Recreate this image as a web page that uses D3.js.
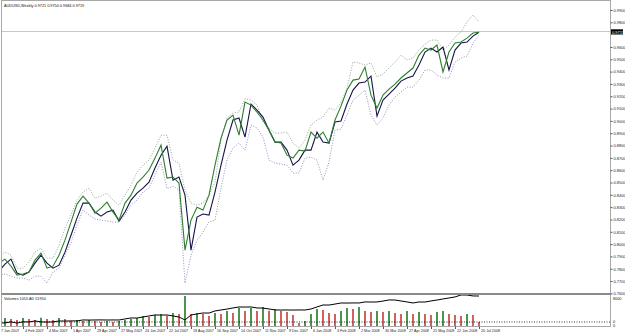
<!DOCTYPE html>
<html>
<head>
<meta charset="utf-8">
<script src="https://cdnjs.cloudflare.com/ajax/libs/d3/7.8.5/d3.min.js"></script>
<style>
  body { margin: 0; background: #fff; }
  text { font-family: "Liberation Sans", Arial, sans-serif; }
</style>
</head>
<body>
<svg width="625" height="334"></svg>
<script>
// AUDUSD weekly, 7 Jan 2007 .. 20 Jul 2008 (81 bars)
var symbol = "AUDUSD,Weekly";
var lastBar = [0.9721, 0.9750, 0.9684, 0.9719]; // open high low close

var tickLabels = ["7 Jan 2007","4 Feb 2007","4 Mar 2007","1 Apr 2007","29 Apr 2007","27 May 2007",
  "24 Jun 2007","22 Jul 2007","19 Aug 2007","16 Sep 2007","14 Oct 2007","11 Nov 2007","9 Dec 2007",
  "6 Jan 2008","3 Feb 2008","2 Mar 2008","30 Mar 2008","27 Apr 2008","25 May 2008","22 Jun 2008","20 Jul 2008"];

var greenLine = [
  .7846,.7878,.7821,.7748,.7757,.7773,.7870,.7927,.7805,.7821,
  .7910,.8032,.8179,.8325,.8389,.8333,.8252,.8292,.8341,.8260,
  .8195,.8333,.8397,.8495,.8544,.8601,.8698,.8803,.8536,.8544,
  .8495,.7951,.8195,.8300,.8276,.8397,.8641,.8860,.9007,.9047,
  .8884,.9153,.9128,.9072,.9007,.8925,.8828,.8820,.8722,.8698,
  .8763,.8755,.8909,.8860,.8909,.8820,.9007,.9120,.9250,.9331,
  .9340,.9437,.9209,.9104,.9209,.9258,.9299,.9348,.9389,.9429,
  .9534,.9591,.9575,.9615,.9397,.9559,.9632,.9640,.9672,.9713,
  .9719];

var navyLine = [
  .7781,.7838,.7878,.7765,.7748,.7773,.7846,.7910,.7846,.7805,
  .7829,.7935,.8072,.8211,.8333,.8333,.8260,.8227,.8260,.8276,
  .8187,.8260,.8357,.8414,.8454,.8503,.8617,.8722,.8795,.8519,
  .8544,.8397,.7951,.8219,.8244,.8236,.8422,.8641,.8844,.9007,
  .9023,.8868,.9137,.9088,.9031,.8925,.8828,.8828,.8763,.8641,
  .8682,.8763,.8763,.8909,.8828,.8820,.8991,.8999,.9137,.9250,
  .9307,.9315,.9364,.9039,.9169,.9218,.9266,.9323,.9348,.9364,
  .9453,.9559,.9591,.9559,.9599,.9413,.9575,.9632,.9640,.9688,
  .9719];

var upperBand = [
  .7902,.7935,.7910,.7805,.7805,.7854,.7935,.7967,.7886,.7886,
  .7991,.8130,.8236,.8357,.8422,.8454,.8373,.8389,.8414,.8357,
  .8316,.8397,.8478,.8585,.8641,.8682,.8779,.8884,.8884,.8682,
  .8658,.8438,.8333,.8316,.8333,.8397,.8503,.8844,.9023,.9064,
  .9072,.9180,.9169,.9128,.8991,.8942,.8901,.8901,.8909,.8820,
  .8779,.8844,.8966,.9007,.9031,.9104,.9088,.9145,.9266,.9478,
  .9470,.9453,.9470,.9356,.9381,.9429,.9478,.9534,.9494,.9510,
  .9575,.9624,.9656,.9656,.9575,.9615,.9680,.9721,.9803,.9859,
  .9803];

var lowerBand = [
  .7748,.7757,.7740,.7724,.7724,.7707,.7740,.7740,.7683,.7773,
  .7805,.7910,.8008,.8154,.8276,.8236,.8203,.8195,.8187,.8179,
  .8179,.8236,.8316,.8357,.8422,.8454,.8560,.8666,.8450,.8470,
  .8440,.7683,.7910,.8032,.8097,.8179,.8195,.8454,.8682,.8779,
  .8820,.8763,.8966,.8942,.8868,.8682,.8658,.8650,.8641,.8577,
  .8577,.8698,.8706,.8682,.8519,.8666,.8925,.8933,.9047,.9169,
  .9209,.9250,.9047,.8966,.9023,.9128,.9193,.9234,.9274,.9274,
  .9331,.9413,.9413,.9372,.9348,.9348,.9478,.9510,.9526,.9632,
  .9696];

var volumes = [
  1760,2030,1720,1490,2010,1780,1530,2060,1740,1510,
  1990,1730,1260,1480,1240,1520,1270,1010,1230,990,
  1260,1490,1770,2030,2480,2260,2740,3010,2540,3260,
  2980,7480,3020,3240,2990,2510,3230,2970,3760,3240,
  4510,3770,4480,3760,4720,3790,4260,3740,3480,2770,
  760,1240,3010,4230,3990,3260,2980,3740,4490,4230,
  4760,3740,3510,3770,3490,3740,3260,2990,3760,3010,
  3510,2990,2760,3490,3740,2980,2760,2510,2990,2740,
  1010];

var adValues = [
  -2000,-1800,200,-2100,300,100,2100,250,-100,150,
  2050,1900,2200,2150,4100,3900,4050,4200,3950,4100,
  3980,6100,8050,7900,10100,12050,14100,13900,14050,12100,
  9950,4100,14050,16100,18050,17900,22100,24050,25900,28100,
  30050,29900,30100,28050,27900,26050,24100,23950,24050,23900,
  24100,23950,26050,30100,34050,33900,35900,38050,37900,38100,
  38050,40100,39950,40050,41900,44100,43950,42050,40100,38050,
  40050,39950,42100,43950,46100,48050,50100,54050,53950,52100,
  51950];

var svg = d3.select("svg"),
    left = 1.5, right = 610.5,
    mainTop = 0.5, mainBottom = 293.5,
    volBottom = 326.5;

var fmt = d3.format(".4f");
var fontFamily = "Liberation Sans, Arial, sans-serif";

var xScale = d3.scaleLinear().domain([0, 80]).range([-1, 479]);
var yScale = d3.scaleLinear().domain([0.76, 0.99]).range([293.4, 10]);
var vScale = d3.scaleLinear().domain([0, 8000]).range([326, 294]);
var adScale = d3.scaleLinear().domain([0, 56000]).range([322, 294]);

svg.append("defs").append("clipPath").attr("id", "clipMain")
  .append("rect").attr("x", 2).attr("y", 1).attr("width", 608).attr("height", 292);
svg.select("defs").append("clipPath").attr("id", "clipVol")
  .append("rect").attr("x", 2).attr("y", 295).attr("width", 608).attr("height", 31);

// bid line
var bidY = Math.round(yScale(lastBar[3])) - 0.5;
svg.append("line")
  .attr("x1", left).attr("x2", right)
  .attr("y1", bidY).attr("y2", bidY)
  .attr("stroke", "#c8c8c8").attr("stroke-width", 1);

var g = svg.append("g").attr("clip-path", "url(#clipMain)");

var line = d3.line()
  .x(function(d, i) { return xScale(i); })
  .y(function(d) { return yScale(d); });

g.append("path").datum(upperBand)
  .attr("d", line).attr("fill", "none")
  .attr("stroke", "#7f9f7f").attr("stroke-width", 0.9).attr("stroke-dasharray", "1,1.6");
g.append("path").datum(lowerBand)
  .attr("d", line).attr("fill", "none")
  .attr("stroke", "#8484b4").attr("stroke-width", 0.9).attr("stroke-dasharray", "1,1.6");
g.append("path").datum(navyLine)
  .attr("d", line).attr("fill", "none")
  .attr("stroke", "#14144a").attr("stroke-width", 1.1);
g.append("path").datum(greenLine)
  .attr("d", line).attr("fill", "none")
  .attr("stroke", "#2f7d2f").attr("stroke-width", 1.1);

// volume window
var vg = svg.append("g").attr("clip-path", "url(#clipVol)");

vg.selectAll(".vol")
  .data(volumes)
  .enter()
  .append("line")
  .attr("class", "vol")
  .attr("x1", function(d, i) { return xScale(i); })
  .attr("x2", function(d, i) { return xScale(i); })
  .attr("y1", vScale(0))
  .attr("y2", function(d) { return vScale(d); })
  .attr("stroke", function(d, i) {
    return (i === 0 || d > volumes[i - 1]) ? "#1f7a1f" : "#c43a3a";
  })
  .attr("stroke-width", 1.6);

vg.append("line")
  .attr("x1", left).attr("x2", right)
  .attr("y1", adScale(0)).attr("y2", adScale(0))
  .attr("stroke", "#000").attr("stroke-width", 0.8).attr("stroke-dasharray", "1,1.5");

vg.append("path").datum(adValues)
  .attr("fill", "none").attr("stroke", "#000").attr("stroke-width", 1)
  .attr("d", d3.line()
    .x(function(d, i) { return xScale(i); })
    .y(function(d) { return adScale(d); }));

// frame
svg.append("rect")
  .attr("x", left).attr("y", mainTop)
  .attr("width", right - left).attr("height", volBottom - mainTop)
  .attr("fill", "none").attr("stroke", "#a8a8a8").attr("stroke-width", 1);
svg.append("line")
  .attr("x1", left).attr("x2", right).attr("y1", mainBottom + 0.5).attr("y2", mainBottom + 0.5)
  .attr("stroke", "#8a8a8a").attr("stroke-width", 2);

// price axis (label under the current-price box is hidden, as in the terminal)
var py = yScale(lastBar[3]);
var priceTicks = d3.range(24).map(function(k) { return 0.76 + k * 0.01; })
  .filter(function(t) { return Math.abs(yScale(t) - py) > 5; });
var yAxis = svg.append("g")
  .attr("transform", "translate(" + right + ",0)")
  .call(d3.axisRight(yScale).tickValues(priceTicks).tickFormat(fmt).tickSize(2).tickPadding(1));
yAxis.select(".domain").remove();
yAxis.selectAll("line").attr("stroke", "#555");
yAxis.selectAll("text").attr("font-size", 4).attr("fill", "#222").attr("font-family", fontFamily);

// current price marker
svg.append("rect").attr("x", 611).attr("y", py - 3).attr("width", 12).attr("height", 5.2).attr("fill", "#000");
svg.append("text").attr("x", 612).attr("y", py + 1.4)
  .attr("font-size", 4).attr("fill", "#fff").attr("font-family", fontFamily).text(fmt(lastBar[3]));

// volume window scale labels
svg.append("text").attr("x", 613).attr("y", 300).attr("font-size", 3.8).attr("fill", "#222").text(vScale.domain()[1]);
svg.append("text").attr("x", 613).attr("y", adScale(0) + 0.5).attr("font-size", 3.8).attr("fill", "#222").text("0");
svg.append("text").attr("x", 613).attr("y", vScale(0) + 0.5).attr("font-size", 3.8).attr("fill", "#222").text("0");

// time axis
var xAxis = svg.append("g")
  .attr("transform", "translate(0," + volBottom + ")")
  .call(d3.axisBottom(xScale)
    .tickValues(tickLabels.map(function(d, i) { return i * 4; }))
    .tickFormat(function(d, i) { return tickLabels[i]; })
    .tickSize(2.5).tickPadding(0.5));
xAxis.select(".domain").remove();
xAxis.selectAll("line").attr("stroke", "#555");
xAxis.selectAll("text")
  .attr("text-anchor", "start").attr("x", 1.5)
  .attr("font-size", 3.7).attr("fill", "#222").attr("font-family", fontFamily);

// titles
svg.append("text").attr("x", 4).attr("y", 7).attr("font-size", 3.8).attr("fill", "#111")
  .text(symbol + "  " + lastBar.map(fmt).join(" "));
svg.append("text").attr("x", 4).attr("y", 299.5).attr("font-size", 3.8).attr("fill", "#111")
  .text("Volumes " + volumes[volumes.length - 1] + "  AD " + adValues[adValues.length - 1]);
</script>
</body>
</html>
